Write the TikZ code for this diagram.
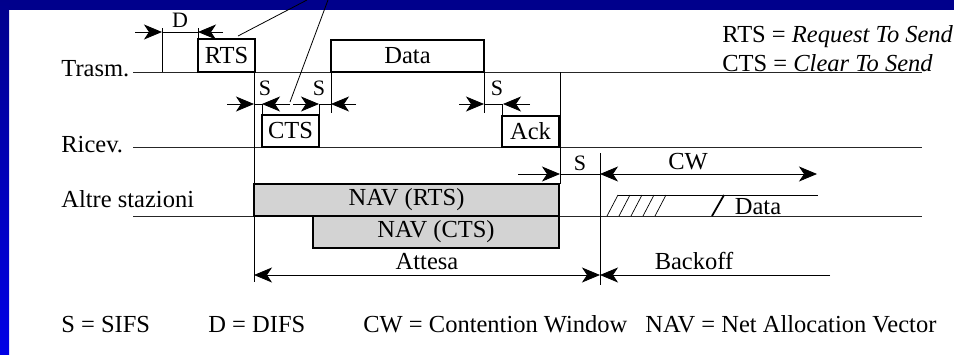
\documentclass[tikz,border=0pt]{standalone}
\usepackage[svgnames]{xcolor}
\usepackage{fontspec}
\setmainfont{Liberation Serif}
\usetikzlibrary{calc,arrows.meta}
\definecolor{slidetop}{RGB}{0,0,140}
\definecolor{slidebottom}{RGB}{0,0,230}
\tikzset{
	frame/.style = {draw=black, line width=1.5pt, inner sep=0pt, outer sep=0pt, font=\fontsize{24.5}{26}\selectfont},
	nav/.style = {frame, fill=LightGray},
	lbl/.style = {inner sep=0pt, font=\fontsize{24.5}{26}\selectfont},
	slbl/.style = {inner sep=0pt, font=\fontsize{22}{24}\selectfont},
	timeline/.style = {draw=black!85, line width=0.9pt},
	dim/.style = {-{Stealth[length=18pt,width=15pt,inset=5pt]}},
	twodim/.style = {{Stealth[length=18pt,width=15pt,inset=5pt]}-{Stealth[length=18pt,width=15pt,inset=5pt]}}
}

\begin{document}
\begin{tikzpicture}[x=1pt,y=-1pt,line width=0.8pt]
	\useasboundingbox (0,0) rectangle (954,354);
	\fill[slidetop] (0,0) rectangle (954,10);
	\shade[top color=slidetop,bottom color=slidebottom] (0,0) rectangle (9,354);

	\node[lbl,anchor=base west] (trasm) at (61,76) {Trasm.};
	\node[lbl,anchor=base west] (ricev) at (61,152) {Ricev.};
	\node[lbl,anchor=base west] (altre) at (61,207) {Altre stazioni};

	\coordinate (tA) at (133,72);  \coordinate (tB) at (922,72);
	\coordinate (rA) at (133,147); \coordinate (rB) at (922,147);
	\coordinate (aA) at (133,216); \coordinate (aB) at (922,216);
	\draw[timeline] (tA) -- (tB);
	\draw[timeline] (rA) -- (rB);
	\draw[timeline] (aA) -- (aB);

	% long marks
	\coordinate (m1) at (254,72);  \coordinate (m1e) at (254,282);
	\coordinate (m2) at (560,72);  \coordinate (m2e) at (560,184);
	\coordinate (m3) at (600,153); \coordinate (m3e) at (600,285);
	\draw (m1) -- (m1e);
	\draw (m2) -- (m2e);
	\draw (m3) -- (m3e);
	\draw (162,72) -- (162,28);
	\draw (331,72) -- (331,113);
	\draw (484,72) -- (484,113);

	\node[frame,fill=white,minimum width=57pt,minimum height=33pt] (rts) at (226.5,55.5) {RTS};
	\node[frame,fill=white,minimum width=153pt,minimum height=32pt] (data) at (407.5,56) {Data};
	\node[frame,fill=white,minimum width=57pt,minimum height=32pt] (cts) at (290.5,131) {CTS};
	\node[frame,fill=white,minimum width=57pt,minimum height=31pt] (ack) at (530.5,131.5) {Ack};
	\node[nav,minimum width=305pt,minimum height=32pt] (navrts) at (406.5,200) {NAV (RTS)};
	\node[nav,minimum width=246pt,minimum height=32pt] (navcts) at (436,232) {NAV (CTS)};

	\draw (rts.north west) -- ++(0,-11);
	\draw (cts.north west) -- ++(0,-11);
	\draw (cts.north east) -- ++(0,-11);
	\draw (ack.north west) -- ++(0,-12);

	% D
	\draw[dim] (135,32) -- (162,32);
	\draw (162,32) -- (198,32);
	\draw[dim] (223,32) -- (198,32);
	\node[slbl] (d) at (180,20) {D};

	% S
	\draw[dim] (227,104) -- (254,104);
	\draw (254,104) -- (262,104);
	\draw[dim] (290,104) -- (262,104);
	\draw[dim] (293,104) -- (319,104);
	\draw (319,104) -- (331,104);
	\draw[dim] (356,104) -- (331,104);
	\draw[dim] (459,104) -- (484,104);
	\draw (484,104) -- (503,104);
	\draw[dim] (530,104) -- (503,104);
	\draw[dim] (518,174) -- (560,174);
	\draw (560,174) -- (600,174);
	\node[slbl] (s1) at (265,88) {S};
	\node[slbl] (s2) at (319,88) {S};
	\node[slbl] (s3) at (497,88) {S};
	\node[slbl] (s4) at (580,163) {S};

	% CW
	\draw[twodim] (600,174) -- (817,174);
	\node[lbl] (cw) at (688,162) {CW};
	\foreach \i in {0,...,4}
		\draw[line width=0.7pt] (607+12*\i,216) -- (618+12*\i,195);
	\draw (618,195) -- (818,195);
	\draw[line width=1.8pt] (712,216) -- (724,195);
	\node[lbl,anchor=base] (data2) at (758,214) {Data};

	% Attesa, Backoff
	\draw[twodim] (254,275) -- (600,275);
	\node[lbl,anchor=base] (attesa) at (427,269) {Attesa};
	\draw[dim] (830,275) -- (600,275);
	\node[lbl,anchor=base] (backoff) at (694,269) {Backoff};

	% callouts
	\coordinate (c1) at (307,0);
	\coordinate (c2) at (328,0);
	\draw (238,36) -- (c1);
	\draw (290,102) -- (c2);

	\node[lbl,anchor=base west] (rtsdef) at (722,42) {RTS = \textit{Request To Send}};
	\node[lbl,anchor=base west] (ctsdef) at (722,71) {CTS = \textit{Clear To Send}};

	\node[lbl,anchor=base west] (sifs) at (61,332) {S = SIFS};
	\node[lbl,anchor=base west] (difs) at (208,332) {D = DIFS};
	\node[lbl,anchor=base west] (cwdef) at (363,332) {CW = Contention Window};
	\node[lbl,anchor=base west] (navdef) at (645,332) {NAV = Net Allocation Vector};
\end{tikzpicture}
\end{document}
